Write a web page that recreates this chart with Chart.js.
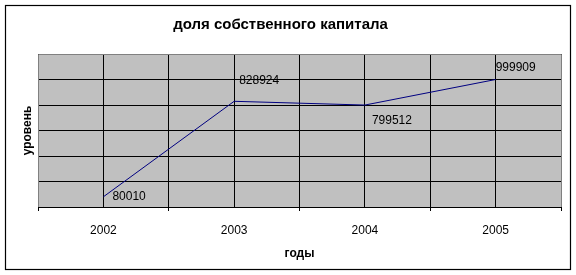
<!DOCTYPE html>
<html>
<head>
<meta charset="utf-8">
<script src="https://cdn.jsdelivr.net/npm/chart.js@4"></script>
<style>
  html, body { margin: 0; padding: 0; background: #fff; }
  #wrap { width: 576px; height: 275px; }
</style>
</head>
<body>
<div id="wrap"><canvas id="equityChart" width="576" height="275"></canvas></div>
<script>
// данные диаграммы
const years = ["2002", "2003", "2004", "2005"];
const equityShare = [80010, 828924, 799512, 999909];
const yMin = 0;
const yMax = 1200000;
const yStep = 200000;

const chartTitle = "доля собственного капитала";
const xTitle = "годы";
const yTitle = "уровень";

const FONT = "'Liberation Sans', Arial, sans-serif";

// сдвиг подписей данных относительно точки (как в Excel)
const labelShift = [[9, 0], [5, -21], [7, 16], [0, -12]];

const frame = {
  id: "frame",
  beforeDraw(chart) {
    const c = chart.ctx, a = chart.chartArea;
    c.save();
    c.fillStyle = "#fff";
    c.fillRect(0, 0, chart.width, chart.height);
    c.strokeStyle = "#000";
    c.lineWidth = 1.2;
    c.strokeRect(5.5, 5.5, 565, 264);
    c.fillStyle = "#C0C0C0";
    c.fillRect(a.left, a.top, a.right - a.left, a.bottom - a.top);
    c.restore();
  },
  afterDatasetsDraw(chart) {
    const c = chart.ctx, a = chart.chartArea;
    c.save();
    // серая рамка области построения
    c.strokeStyle = "#808080";
    c.lineWidth = 1;
    c.beginPath();
    c.moveTo(a.left + 0.5, a.bottom);
    c.lineTo(a.left + 0.5, a.top + 0.5);
    c.lineTo(a.right + 0.5, a.top + 0.5);
    c.lineTo(a.right + 0.5, a.bottom);
    c.stroke();
    // подписи значений
    const pts = chart.getDatasetMeta(0).data;
    c.fillStyle = "#000";
    c.font = "12px " + FONT;
    c.textAlign = "left";
    c.textBaseline = "middle";
    pts.forEach((p, i) => {
      c.fillText(String(equityShare[i]), p.x + labelShift[i][0], p.y + labelShift[i][1]);
    });
    c.restore();
  }
};

new Chart(document.getElementById("equityChart"), {
  type: "line",
  data: {
    labels: years,
    datasets: [{
      data: equityShare,
      borderColor: "#000080",
      borderWidth: 1,
      pointRadius: 0,
      tension: 0,
      fill: false
    }]
  },
  options: {
    responsive: false,
    animation: false,
    events: [],
    layout: { padding: { left: 0, right: 15, top: 0, bottom: 0 } },
    plugins: {
      legend: { display: false },
      tooltip: { enabled: false },
      title: {
        display: true,
        text: chartTitle,
        color: "#000",
        font: { family: FONT, size: 15, weight: "bold", lineHeight: 1.2 },
        padding: { top: 16, bottom: 20 }
      }
    },
    scales: {
      x: {
        type: "category",
        position: "bottom",
        offset: true,
        grid: { offset: true, color: "#000", lineWidth: 1, drawTicks: true, tickLength: 4, tickColor: "#000" },
        border: { display: true, color: "#000", width: 1 },
        ticks: { color: "#000", font: { family: FONT, size: 12 }, padding: 12, maxRotation: 0 },
        title: {
          display: true,
          text: xTitle,
          color: "#000",
          font: { family: FONT, size: 12, weight: "bold", lineHeight: 1.2 },
          padding: { top: 0, bottom: 14 }
        },
        afterFit(scale) { scale.height = 68; }
      },
      x2: {
        type: "category",
        position: "top",
        offset: true,
        grid: { offset: false, color: "#000", lineWidth: 1, drawTicks: false },
        border: { display: false },
        ticks: { display: false },
        afterFit(scale) { scale.height = 0; }
      },
      y: {
        min: yMin,
        max: yMax,
        grid: { color: "#000", lineWidth: 1, drawTicks: false },
        border: { display: false },
        ticks: { display: false, stepSize: yStep },
        title: {
          display: true,
          text: yTitle,
          color: "#000",
          font: { family: FONT, size: 12, weight: "bold", lineHeight: 1.2 },
          padding: { top: 20, bottom: 0 }
        },
        afterFit(scale) { scale.width = 38; }
      }
    }
  },
  plugins: [frame]
});
</script>
</body>
</html>
